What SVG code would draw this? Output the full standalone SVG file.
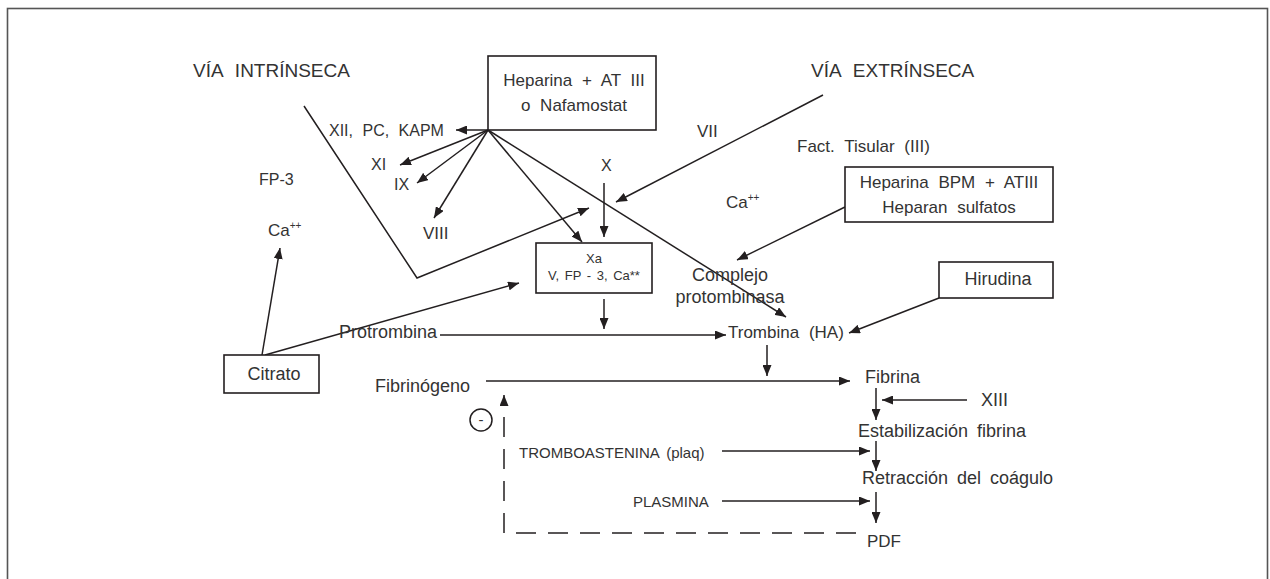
<svg xmlns="http://www.w3.org/2000/svg" width="1270" height="579" viewBox="0 0 1270 579">
<style>
  text { font-family: "Liberation Sans", Arial, sans-serif; fill: #333; }
  .t19 { font-size: 19px; word-spacing: 7px; }
  .t18 { font-size: 18px; word-spacing: 4px; }
  .t17 { font-size: 17px; word-spacing: 5px; }
  .t16 { font-size: 16px; word-spacing: 5px; }
  .t15 { font-size: 15px; word-spacing: 3px; }
  .t13 { font-size: 13px; word-spacing: 2px; }
  .mid { text-anchor: middle; }
  .box { fill: #fff; stroke: #231f20; stroke-width: 1.6; }
  .ln { fill: none; stroke: #231f20; stroke-width: 1.5; }
  .arr { fill: none; stroke: #231f20; stroke-width: 1.5; marker-end: url(#ah); }
  .dash { fill: none; stroke: #231f20; stroke-width: 1.5; stroke-dasharray: 20 12; }
  .sup { font-size: 10px; }
</style>
<defs>
  <marker id="ah" markerUnits="userSpaceOnUse" markerWidth="12" markerHeight="9" refX="11" refY="4.5" orient="auto">
    <path d="M0,0 L11,4.5 L0,9 z" fill="#231f20"/>
  </marker>
</defs>
<rect x="0" y="0" width="1270" height="579" fill="#fff"/>
<rect x="7.5" y="8.5" width="1260" height="620" fill="none" stroke="#555" stroke-width="1.6"/>

<g id="connectors">
  <line class="arr" x1="488" y1="130" x2="456" y2="130"/>
  <line class="arr" x1="488" y1="130" x2="400" y2="165"/>
  <line class="arr" x1="488" y1="130" x2="417" y2="183"/>
  <line class="arr" x1="488" y1="130" x2="434" y2="218"/>
  <line class="arr" x1="488" y1="130" x2="582" y2="242"/>
  <line class="arr" x1="488" y1="130" x2="786" y2="317"/>
  <polyline class="arr" points="304,106 417,278 589,208"/>
  <line class="arr" x1="823" y1="95" x2="616" y2="202"/>
  <line class="arr" x1="604" y1="183" x2="604" y2="237"/>
  <line class="arr" x1="604" y1="299" x2="604" y2="329"/>
  <line class="arr" x1="440" y1="335" x2="726" y2="335"/>
  <line class="arr" x1="845" y1="207" x2="737" y2="260"/>
  <line class="arr" x1="939" y1="298" x2="849" y2="333"/>
  <line class="arr" x1="262" y1="355" x2="280" y2="248"/>
  <line class="arr" x1="265" y1="355" x2="519" y2="283"/>
  <line class="arr" x1="767" y1="345" x2="767" y2="376"/>
  <line class="arr" x1="486" y1="381" x2="850" y2="381"/>
  <line class="arr" x1="876" y1="388" x2="876" y2="420"/>
  <line class="arr" x1="967" y1="400" x2="882" y2="400"/>
  <line class="arr" x1="876" y1="441" x2="876" y2="471"/>
  <line class="arr" x1="722" y1="451" x2="870" y2="451"/>
  <line class="arr" x1="876" y1="492" x2="876" y2="523"/>
  <line class="arr" x1="722" y1="501" x2="870" y2="501"/>
  <path class="dash" d="M856,533 L504,533 L504,410"/>
  <line class="arr" x1="504" y1="406" x2="504" y2="395"/>
</g>

<g id="heparina-at3">
  <rect class="box" x="488" y="56" width="168" height="74"/>
  <text class="t17 mid" x="574" y="86">Heparina + AT III</text>
  <text class="t17 mid" x="574" y="111">o Nafamostat</text>
</g>
<g id="heparina-bpm">
  <rect class="box" x="845" y="167" width="208" height="55"/>
  <text class="t17 mid" x="949" y="188">Heparina BPM + ATIII</text>
  <text class="t17 mid" x="949" y="213">Heparan sulfatos</text>
</g>
<g id="hirudina">
  <rect class="box" x="939" y="262" width="114" height="36"/>
  <text class="t18 mid" x="998" y="285">Hirudina</text>
</g>
<g id="xa">
  <rect class="box" x="536" y="243" width="116" height="50"/>
  <text class="t13 mid" x="594" y="263">Xa</text>
  <text class="t13 mid" x="594" y="280">V, FP - 3, Ca**</text>
</g>
<g id="citrato">
  <rect class="box" x="224" y="355" width="95" height="38"/>
  <text class="t18 mid" x="274" y="380">Citrato</text>
</g>

<g id="via-intrinseca"><text class="t19" x="193" y="77">VÍA INTRÍNSECA</text></g>
<g id="via-extrinseca"><text class="t19" x="811" y="77">VÍA EXTRÍNSECA</text></g>
<g id="xii"><text class="t16" x="329" y="136">XII, PC, KAPM</text></g>
<g id="xi"><text class="t16" x="371" y="170">XI</text></g>
<g id="ix"><text class="t16" x="394" y="190">IX</text></g>
<g id="viii"><text class="t17" x="423" y="239">VIII</text></g>
<g id="x"><text class="t16" x="601" y="171">X</text></g>
<g id="vii"><text class="t17" x="697" y="137">VII</text></g>
<g id="fact-tisular"><text class="t17" x="797" y="152">Fact. Tisular (III)</text></g>
<g id="ca-mid"><text class="t17" x="726" y="208">Ca<tspan class="sup" dy="-7">++</tspan></text></g>
<g id="fp3"><text class="t16" x="259" y="185">FP-3</text></g>
<g id="ca-left"><text class="t17" x="268" y="236">Ca<tspan class="sup" dy="-7">++</tspan></text></g>
<g id="complejo">
  <text class="t18 mid" x="730" y="281">Complejo</text>
  <text class="t18 mid" x="730" y="303">protombinasa</text>
</g>
<g id="protrombina"><text class="t18" x="339" y="338">Protrombina</text></g>
<g id="trombina"><text class="t17" x="728" y="338">Trombina (HA)</text></g>
<g id="fibrinogeno"><text class="t18" x="375" y="392">Fibrinógeno</text></g>
<g id="fibrina"><text class="t18" x="865" y="383">Fibrina</text></g>
<g id="xiii"><text class="t18" x="981" y="406">XIII</text></g>
<g id="estabilizacion"><text class="t18" x="858" y="437">Estabilización fibrina</text></g>
<g id="retraccion"><text class="t18" x="862" y="484">Retracción del coágulo</text></g>
<g id="pdf"><text class="t17" x="867" y="547">PDF</text></g>
<g id="tromboastenina"><text class="t15" x="519" y="458">TROMBOASTENINA (plaq)</text></g>
<g id="plasmina"><text class="t15" x="633" y="507">PLASMINA</text></g>
<g id="minus">
  <circle cx="481" cy="420" r="11" fill="none" stroke="#231f20" stroke-width="1.5"/>
  <text class="t15 mid" x="481" y="425">-</text>
</g>
</svg>
